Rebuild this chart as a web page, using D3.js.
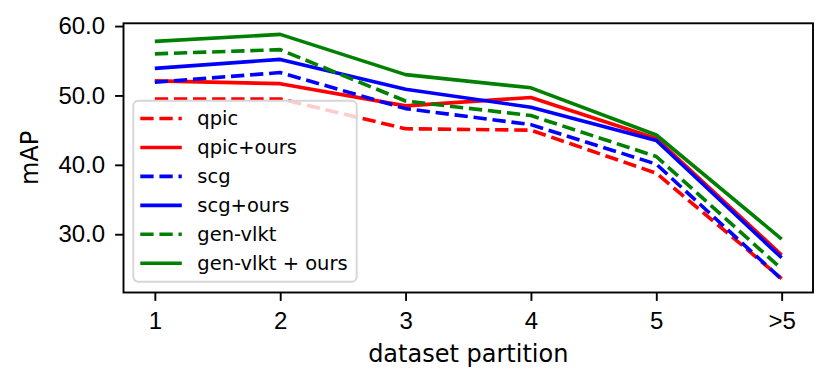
<!DOCTYPE html>
<html>
<head>
<meta charset="utf-8">
<script src="https://cdn.jsdelivr.net/npm/d3@7"></script>
<style>
  body { margin: 0; background: #ffffff; }
  svg { display: block; font-family: "DejaVu Sans", sans-serif; }
  .axis text { font-size: 24px; fill: #000000; }
  .axis line { stroke: #000000; stroke-width: 1.9; }
</style>
</head>
<body>
<svg id="chart" width="831" height="385"></svg>
<script>
// chart data
const partitions = ["1", "2", "3", "4", "5", ">5"];
const qpic        = [49.5, 49.5, 45.2, 45.0, 38.8, 23.6];
const qpicOurs    = [52.1, 51.7, 48.5, 49.7, 43.8, 27.0];
const scg         = [51.9, 53.3, 48.1, 45.8, 40.1, 23.5];
const scgOurs     = [53.9, 55.2, 50.9, 48.3, 43.5, 26.6];
const genVlkt     = [56.0, 56.6, 49.2, 47.1, 41.2, 25.0];
const genVlktOurs = [57.8, 58.8, 53.0, 51.1, 44.3, 29.3];
const yTicks = [30, 40, 50, 60];

const series = [
    {name: "qpic", values: qpic, color: "#ff0000", dashed: true},
    {name: "qpic+ours", values: qpicOurs, color: "#ff0000", dashed: false},
    {name: "scg", values: scg, color: "#0000ff", dashed: true},
    {name: "scg+ours", values: scgOurs, color: "#0000ff", dashed: false},
    {name: "gen-vlkt", values: genVlkt, color: "#008000", dashed: true},
    {name: "gen-vlkt + ours", values: genVlktOurs, color: "#008000", dashed: false}
];

// plot area
const plotLeft = 123.5, plotRight = 813, plotTop = 23.3, plotBottom = 292.5;
const lineW = 3.6;
const dash = "13.3,5.8";

const svg = d3.select("#chart");

const xScale = d3.scalePoint()
                .domain(partitions)
                .range([plotLeft, plotRight])
                .padding(0.25);

const yScale = d3.scaleLinear()
                .domain([21.6, 60.4])
                .range([plotBottom, plotTop]);

// lines
const line = d3.line()
                .x((d, i) => xScale(partitions[i]))
                .y(d => yScale(d));

svg.append("g")
    .selectAll("path")
    .data(series)
    .join("path")
    .attr("d", d => line(d.values))
    .attr("fill", "none")
    .attr("stroke", d => d.color)
    .attr("stroke-width", lineW)
    .attr("stroke-dasharray", d => d.dashed ? dash : null)
    .attr("stroke-linejoin", "round");

// axes
const bottomAxis = d3.axisBottom(xScale).tickSize(8.4).tickPadding(10.6);
const leftAxis = d3.axisLeft(yScale).tickValues(yTicks).tickFormat(d3.format(".1f")).tickSize(8.4).tickPadding(10);

svg.append("g")
    .attr("class", "axis")
    .attr("transform", "translate(0," + plotBottom + ")")
    .call(bottomAxis)
    .call(g => g.select(".domain").remove());

svg.append("g")
    .attr("class", "axis")
    .attr("transform", "translate(" + plotLeft + ",0)")
    .call(leftAxis)
    .call(g => g.select(".domain").remove());

// frame
svg.append("rect")
    .attr("x", plotLeft)
    .attr("y", plotTop)
    .attr("width", plotRight - plotLeft)
    .attr("height", plotBottom - plotTop)
    .attr("fill", "none")
    .attr("stroke", "#000000")
    .attr("stroke-width", 1.9);

// axis labels
svg.append("text")
    .attr("x", (plotLeft + plotRight) / 2)
    .attr("y", 362)
    .attr("text-anchor", "middle")
    .attr("font-size", "24px")
    .text("dataset partition");

svg.append("text")
    .attr("transform", "translate(38," + ((plotTop + plotBottom) / 2) + ") rotate(-90)")
    .attr("text-anchor", "middle")
    .attr("font-size", "24px")
    .text("mAP");

// legend
const legend = svg.append("g").attr("transform", "translate(133.3,100.7)");

legend.append("rect")
    .attr("width", 223.4)
    .attr("height", 181)
    .attr("rx", 5)
    .attr("fill", "#ffffff")
    .attr("fill-opacity", 0.8)
    .attr("stroke", "#d6d6d6")
    .attr("stroke-width", 1.9);

const rows = legend.selectAll("g.row")
    .data(series)
    .join("g")
    .attr("class", "row")
    .attr("transform", (d, i) => "translate(0," + (17.8 + i * 28.95) + ")");

rows.append("line")
    .attr("x1", 7)
    .attr("x2", 48.5)
    .attr("stroke", d => d.color)
    .attr("stroke-width", lineW)
    .attr("stroke-dasharray", d => d.dashed ? dash : null);

rows.append("text")
    .attr("x", 64)
    .attr("dy", "0.35em")
    .attr("font-size", "19.5px")
    .text(d => d.name);
</script>
</body>
</html>
